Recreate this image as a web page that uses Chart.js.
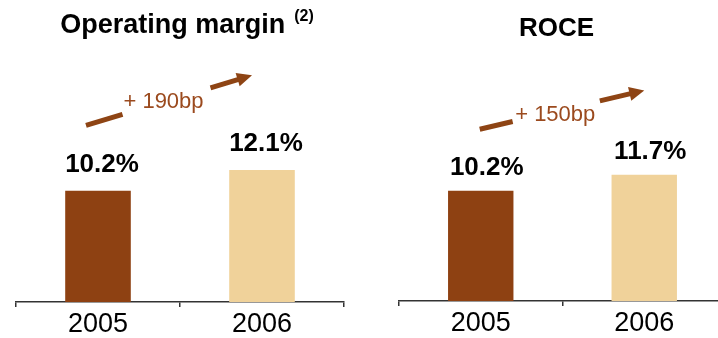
<!DOCTYPE html>
<html>
<head>
<meta charset="utf-8">
<script src="https://cdn.jsdelivr.net/npm/chart.js@4"></script>
<style>
  html, body { margin: 0; padding: 0; background: #fff; overflow: hidden; }
  #wrap { position: relative; width: 718px; height: 338px; overflow: hidden; }
  canvas { position: absolute; top: 0; }
</style>
</head>
<body>
<div id="wrap">
  <canvas id="marginChart" width="360" height="338" style="left:0"></canvas>
  <canvas id="roceChart" width="366" height="338" style="left:360px"></canvas>
</div>
<script>
// Values
const years = ['2005', '2006'];
const operatingMargin = [10.2, 12.1];
const roce = [10.2, 11.7];

const barColors = ['#8E4112', '#F0D29A'];
const arrowColor = '#8E4414';
const changeColor = '#9B4A1E';
const FONT = '"Liberation Sans", Arial, Helvetica, sans-serif';

// Draws the panel title, value labels above bars and the growth arrow
const panelDecor = {
  id: 'panelDecor',
  afterDatasetsDraw(chart, args, o) {
    const ctx = chart.ctx;
    const area = chart.chartArea;
    const bars = chart.getDatasetMeta(0).data;
    const values = chart.data.datasets[0].data;
    const y = chart.scales.y;
    ctx.save();

    // title with optional superscript note
    ctx.fillStyle = '#000';
    ctx.textBaseline = 'alphabetic';
    ctx.textAlign = 'left';
    ctx.font = 'bold ' + o.titleSize + 'px ' + FONT;
    const tw = ctx.measureText(o.title).width;
    let sw = 0;
    if (o.sup) {
      ctx.font = 'bold 16px ' + FONT;
      sw = ctx.measureText(o.sup).width + 9;
    }
    const cx = (area.left + area.right) / 2 + o.titleShift;
    const tx = cx - (tw + sw) / 2;
    ctx.font = 'bold ' + o.titleSize + 'px ' + FONT;
    ctx.fillText(o.title, tx, o.titleBaseline);
    if (o.sup) {
      ctx.font = 'bold 16px ' + FONT;
      ctx.fillText(o.sup, tx + tw + 9, o.titleBaseline - 12);
    }

    // value labels
    ctx.font = 'bold 26px ' + FONT;
    ctx.textAlign = 'center';
    bars.forEach((bar, i) => {
      ctx.fillText(values[i].toFixed(1) + '%', bar.x + o.labelDx, bar.y - o.labelGap);
    });

    // growth arrow, broken around its label
    const a = o.arrow;
    const x0 = bars[0].x + a.from[0], y0 = y.getPixelForValue(a.from[1]);
    const x1 = bars[1].x + a.to[0], y1 = y.getPixelForValue(a.to[1]);
    const pt = t => [x0 + (x1 - x0) * t, y0 + (y1 - y0) * t];
    const ang = Math.atan2(y1 - y0, x1 - x0);
    const headLen = 15, headHalf = 7;
    const baseX = x1 - headLen * Math.cos(ang), baseY = y1 - headLen * Math.sin(ang);
    ctx.strokeStyle = arrowColor;
    ctx.fillStyle = arrowColor;
    ctx.lineWidth = 5;
    ctx.lineCap = 'butt';
    const g0 = pt(a.gap[0]), g1 = pt(a.gap[1]);
    ctx.beginPath();
    ctx.moveTo(x0, y0); ctx.lineTo(g0[0], g0[1]);
    ctx.moveTo(g1[0], g1[1]); ctx.lineTo(baseX + Math.cos(ang), baseY + Math.sin(ang));
    ctx.stroke();
    ctx.beginPath();
    ctx.moveTo(x1, y1);
    ctx.lineTo(baseX + headHalf * Math.sin(ang), baseY - headHalf * Math.cos(ang));
    ctx.lineTo(baseX - headHalf * Math.sin(ang), baseY + headHalf * Math.cos(ang));
    ctx.closePath();
    ctx.fill();

    // change in basis points
    const bp = Math.round((values[1] - values[0]) * 100);
    const mid = pt((a.gap[0] + a.gap[1]) / 2);
    ctx.font = '22px ' + FONT;
    ctx.fillStyle = changeColor;
    ctx.textAlign = 'center';
    ctx.textBaseline = 'middle';
    ctx.fillText('+ ' + bp + 'bp', mid[0] + a.textDx, mid[1] + a.textDy);
    ctx.restore();
  }
};

function makePanel(id, values, pad, axisHeight, decor) {
  return new Chart(document.getElementById(id), {
    type: 'bar',
    data: {
      labels: years,
      datasets: [{
        data: values,
        backgroundColor: barColors,
        borderWidth: 0,
        barPercentage: 0.4,
        categoryPercentage: 1
      }]
    },
    options: {
      responsive: false,
      animation: false,
      devicePixelRatio: 1,
      layout: { padding: pad },
      plugins: {
        legend: { display: false },
        tooltip: { enabled: false },
        panelDecor: decor
      },
      scales: {
        x: {
          offset: true,
          grid: {
            display: true,
            offset: true,
            drawOnChartArea: false,
            drawTicks: true,
            tickLength: 5,
            color: '#333',
            lineWidth: 1.5
          },
          border: { display: true, color: '#333', width: 1.5 },
          ticks: { color: '#000', font: { family: FONT, size: 27 }, padding: 1 },
          afterFit(scale) { scale.height = axisHeight; }
        },
        y: { display: false, min: 0, max: 25 }
      }
    },
    plugins: [panelDecor]
  });
}

makePanel('marginChart', operatingMargin,
  { left: 16, right: 16, top: 29.5, bottom: 0 }, 36,
  {
    title: 'Operating margin', sup: '(2)', titleSize: 27, titleShift: 7, titleBaseline: 33,
    labelDx: 4, labelGap: 19,
    arrow: { from: [-12, 16.2], to: [-10, 20.8], gap: [0.22, 0.75], textDx: -3, textDy: 1 }
  });

makePanel('roceChart', roce,
  { left: 39, right: 0, top: 31, bottom: 0 }, 37,
  {
    title: 'ROCE', sup: '', titleSize: 26, titleShift: -6, titleBaseline: 36,
    labelDx: 6, labelGap: 16,
    arrow: { from: [-1, 15.9], to: [0, 19.5], gap: [0.2, 0.73], textDx: -1, textDy: 4 }
  });
</script>
</body>
</html>
